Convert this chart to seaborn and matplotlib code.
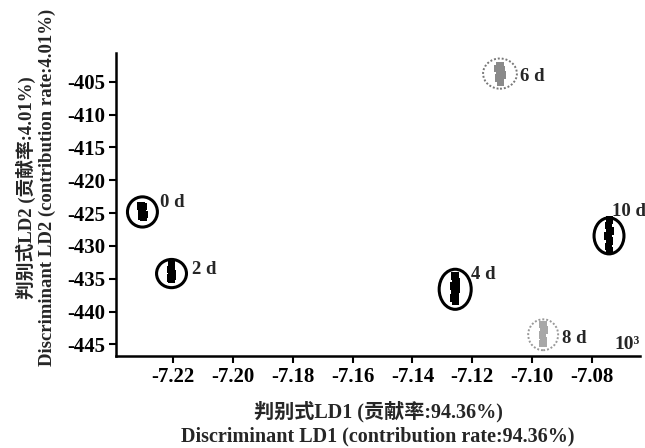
import numpy as np
import pandas as pd
import seaborn as sns
import matplotlib
matplotlib.use("Agg")
import matplotlib.pyplot as plt
from matplotlib.patches import Ellipse

# Discriminant scores of the samples, grouped by storage day
days = ["0 d", "2 d", "4 d", "6 d", "8 d", "10 d"]
ld1_0d = [-7.2307, -7.2300, -7.2304, -7.2297, -7.2305, -7.2299]
ld2_0d = [-423.9, -424.0, -424.8, -425.2, -425.5, -425.6]
ld1_2d = [-7.2205, -7.2207, -7.2203, -7.2208, -7.2201, -7.2205]
ld2_2d = [-432.9, -433.6, -434.2, -434.9, -434.6, -435.1]
ld1_4d = [-7.1258, -7.1255, -7.1260, -7.1253, -7.1257, -7.1260, -7.1256]
ld2_4d = [-434.6, -435.4, -436.1, -436.6, -437.3, -437.9, -438.4]
ld1_6d = [-7.1114, -7.1104, -7.1109, -7.1101, -7.1107, -7.1111, -7.1105]
ld2_6d = [-403.0, -403.2, -404.1, -404.0, -402.6, -404.4, -405.0]
ld1_8d = [-7.0964, -7.0961, -7.0965, -7.0962, -7.0963]
ld2_8d = [-442.0, -442.8, -443.6, -444.4, -444.9]
ld1_10d = [-7.0742, -7.0745, -7.0740, -7.0746, -7.0742, -7.0745, -7.0741]
ld2_10d = [-426.1, -426.9, -427.7, -428.5, -429.3, -430.1, -430.7]

x_ticks = [-7.22, -7.20, -7.18, -7.16, -7.14, -7.12, -7.10, -7.08]
y_ticks = [-405, -410, -415, -420, -425, -430, -435, -440, -445]

ld1_all = [ld1_0d, ld1_2d, ld1_4d, ld1_6d, ld1_8d, ld1_10d]
ld2_all = [ld2_0d, ld2_2d, ld2_4d, ld2_6d, ld2_8d, ld2_10d]
df = pd.concat(
    [pd.DataFrame({"LD1": a, "LD2": b, "day": d}) for d, a, b in zip(days, ld1_all, ld2_all)],
    ignore_index=True,
)

sns.set_theme(style="ticks")
serif = ["Liberation Serif", "Noto Sans CJK SC"]
plt.rcParams["font.family"] = serif

fig = plt.figure(figsize=(6.45, 4.48), dpi=100)
ax = fig.add_axes([0.180, 0.205, 0.812, 0.677])

palette = {"0 d": "black", "2 d": "black", "4 d": "black",
           "6 d": "#8a8a8a", "8 d": "#a8a8a8", "10 d": "black"}
sns.scatterplot(data=df, x="LD1", y="LD2", hue="day", palette=palette,
                marker="s", s=30, linewidth=0, legend=False, ax=ax, zorder=3)

# confidence ellipses (width in LD1 units, height in LD2 units) and label offsets in px
ell_style = {
    "0 d": dict(w=0.0100, h=4.6, ls="-", c="black", lw=2.2, dx=18, dy=9),
    "2 d": dict(w=0.0100, h=4.3, ls="-", c="black", lw=2.2, dx=20, dy=4),
    "4 d": dict(w=0.0107, h=6.1, ls="-", c="black", lw=2.2, dx=16, dy=15),
    "6 d": dict(w=0.0113, h=4.6, ls=(0, (1, 1)), c="#777777", lw=1.4, dx=20, dy=-3),
    "8 d": dict(w=0.0100, h=4.7, ls=(0, (1, 1)), c="#999999", lw=1.4, dx=19, dy=-4),
    "10 d": dict(w=0.0100, h=5.5, ls="-", c="black", lw=2.2, dx=3, dy=24),
}
for d in days:
    sub = df[df["day"] == d]
    cx, cy = sub["LD1"].mean(), sub["LD2"].mean()
    st = ell_style[d]
    ax.add_patch(Ellipse((cx, cy), st["w"], st["h"], fill=False, ec=st["c"],
                         lw=st["lw"], ls=st["ls"], zorder=4))
    ax.annotate(d, (cx, cy), xytext=(st["dx"] * 0.72, st["dy"] * 0.72),
                textcoords="offset points", ha="left", va="center",
                fontsize=13.5, fontweight="bold", family=serif, zorder=5)

ax.set_xlim(-7.239, -7.064)
ax.set_ylim(-446.8, -400.6)
ax.set_xticks(x_ticks)
ax.set_yticks(y_ticks)
ax.set_xticklabels([f"{v:.2f}" for v in x_ticks])
ax.set_yticklabels([str(v) for v in y_ticks])
ax.tick_params(axis="both", direction="out", length=5, width=1.5, labelsize=15,
               colors="black", pad=3)
for lab in ax.get_xticklabels() + ax.get_yticklabels():
    lab.set_fontweight("bold")
for side in ["top", "right"]:
    ax.spines[side].set_visible(False)
for side in ["left", "bottom"]:
    ax.spines[side].set_linewidth(1.8)
    ax.spines[side].set_color("black")

ax.set_xlabel("判别式LD1 (贡献率:94.36%)\nDiscriminant LD1 (contribution rate:94.36%)",
              fontsize=14.5, fontweight="bold", family=serif, linespacing=1.22, labelpad=10)
ax.set_ylabel("判别式LD2 (贡献率:4.01%)\nDiscriminant LD2 (contribution rate:4.01%)",
              fontsize=13.5, fontweight="bold", family=serif, linespacing=1.22)
ax.yaxis.set_label_coords(-0.115, 0.555)

ax.text(1.0, 0.01, "10³", transform=ax.transAxes, ha="right", va="bottom",
        fontsize=14, fontweight="bold", family=serif)

fig.savefig("out.png", dpi=100)
